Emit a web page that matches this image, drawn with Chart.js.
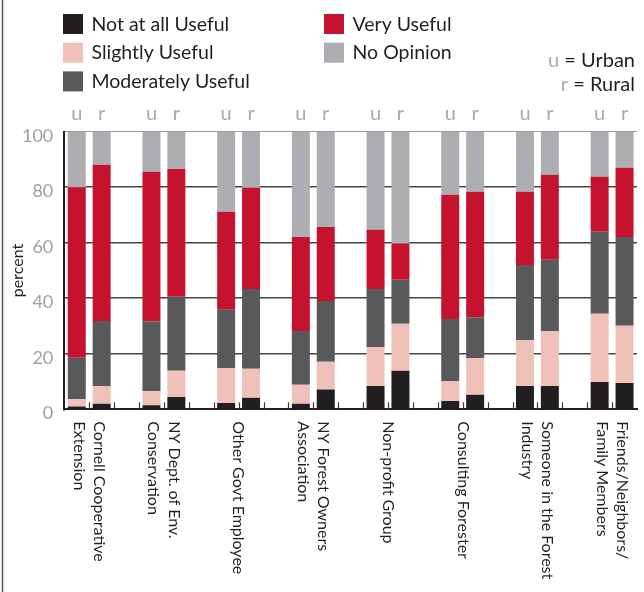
<!DOCTYPE html>
<html>
<head>
<meta charset="utf-8">
<script src="https://cdn.jsdelivr.net/npm/chart.js@4.4.1/dist/chart.umd.min.js"></script>
<style>
  html, body { margin: 0; padding: 0; background: #fff; }
  #wrap { width: 644px; height: 592px; }
</style>
</head>
<body>
<div id="wrap"><canvas id="chart"></canvas></div>
<script>
// source groups, two bars each (urban, rural)
const groupNames = [
    ['Cornell Cooperative', 'Extension'],
    ['NY Dept. of Env.', 'Conservation'],
    ['Other Govt Employee'],
    ['NY Forest Owners', 'Association'],
    ['Non-profit Group'],
    ['Consulting Forester'],
    ['Someone in the Forest', 'Industry'],
    ['Friends/Neighbors/', 'Family Members']
];
const areaTags = ['u', 'r'];

// percent per bar, order: group1 u, group1 r, group2 u, ...
const notAtAll   = [1, 2, 1.5, 4.4, 2.3, 4.2, 2, 7.1, 8.4, 13.9, 3, 5.2, 8.4, 8.4, 9.8, 9.5];
const slightly   = [2.6, 6.4, 5.1, 9.5, 12.6, 10.4, 6.8, 10, 14, 16.9, 7.2, 13.3, 16.6, 19.8, 24.6, 20.6];
const moderately = [15, 23.4, 25, 26.6, 21, 28.7, 19.4, 21.9, 20.9, 15.9, 22.3, 14.7, 27, 25.7, 29.6, 32];
const veryUseful = [61.4, 56.3, 54, 46.1, 35.3, 36.5, 33.9, 26.7, 21.4, 13, 44.8, 45.2, 26.4, 30.6, 19.8, 24.9];
const noOpinion  = [20, 11.9, 14.4, 13.4, 28.8, 20.2, 37.9, 34.3, 35.3, 40.3, 22.7, 21.6, 21.6, 15.5, 16.2, 13];

const yTicks = [0, 20, 40, 60, 80, 100];

const seriesNames = ['Not at all Useful', 'Slightly Useful', 'Moderately Useful', 'Very Useful', 'No Opinion'];
const seriesValues = [notAtAll, slightly, moderately, veryUseful, noOpinion];
const seriesColors = ['#231f20', '#f0c1b8', '#58595b', '#c4122f', '#adaeb1'];

const FONT = 'Lato';
const TEXT = '#231f20';
const GREY_TEXT = '#a7a9ac';

// u, r, then an empty slot between groups
const slotTags = [];
const slotBar = [];
groupNames.forEach((g, gi) => {
    areaTags.forEach((t, ti) => {
        slotTags.push(t);
        slotBar.push(gi * areaTags.length + ti);
    });
    if (gi < groupNames.length - 1) {
        slotTags.push('');
        slotBar.push(null);
    }
});
const toSlots = values => slotBar.map(b => (b === null ? null : values[b]));

const extras = {
    id: 'extras',
    afterDraw(chart) {
        const { ctx, chartArea } = chart;
        const x = chart.scales.x;
        ctx.save();

        // frame line on the left edge
        ctx.strokeStyle = '#555';
        ctx.lineWidth = 1.5;
        ctx.beginPath();
        ctx.moveTo(2.5, 0);
        ctx.lineTo(2.5, chart.height);
        ctx.stroke();

        // short ticks between slots, pointing up from the axis
        ctx.strokeStyle = '#3a3a3a';
        ctx.lineWidth = 1.2;
        for (let i = 1; i < slotTags.length; i++) {
            const px = Math.round(x.getPixelForValue(i - 0.5)) + 0.5;
            ctx.beginPath();
            ctx.moveTo(px, chartArea.bottom);
            ctx.lineTo(px, chartArea.bottom - 7);
            ctx.stroke();
        }

        // group names, rotated to read downwards
        ctx.fillStyle = TEXT;
        ctx.font = `16px ${FONT}`;
        ctx.textAlign = 'left';
        ctx.textBaseline = 'middle';
        groupNames.forEach((lines, gi) => {
            const first = gi * (areaTags.length + 1);
            const cx = (x.getPixelForValue(first) + x.getPixelForValue(first + 1)) / 2;
            ctx.save();
            ctx.translate(cx, chartArea.bottom + 12);
            ctx.rotate(Math.PI / 2);
            lines.forEach((line, li) => {
                ctx.fillText(line, 0, (li - (lines.length - 1) / 2) * 20.5);
            });
            ctx.restore();
        });

        // legend in two columns
        const cols = [[0, 1, 2], [3, 4]];
        const colX = [63, 324];
        ctx.font = `19.5px ${FONT}`;
        cols.forEach((items, ci) => {
            items.forEach((si, ri) => {
                const top = 14 + ri * 28.7;
                ctx.fillStyle = seriesColors[si];
                ctx.fillRect(colX[ci], top, 20, 20);
                ctx.fillStyle = TEXT;
                ctx.fillText(seriesNames[si], colX[ci] + 28.5, top + 10.5);
            });
        });

        // u / r key
        ctx.font = `20px ${FONT}`;
        ctx.textAlign = 'right';
        ctx.textBaseline = 'alphabetic';
        [['u', ' = Urban', 66.7], ['r', ' = Rural', 90.7]].forEach(([tag, rest, base]) => {
            const right = 635;
            ctx.fillStyle = TEXT;
            ctx.fillText(rest, right, base);
            ctx.fillStyle = GREY_TEXT;
            ctx.fillText(tag, right - ctx.measureText(rest).width, base);
        });

        ctx.restore();
    }
};

const datasets = seriesNames.map((name, i) => ({
    label: name,
    data: toSlots(seriesValues[i]),
    backgroundColor: seriesColors[i],
    borderWidth: 0,
    barPercentage: 0.723,
    categoryPercentage: 1
}));

new Chart(document.getElementById('chart'), {
    type: 'bar',
    data: { labels: slotTags, datasets },
    options: {
        responsive: true,
        maintainAspectRatio: false,
        animation: false,
        layout: { padding: { top: 105.7, right: 7, bottom: 162.7, left: 8 } },
        plugins: {
            legend: { display: false },
            tooltip: { enabled: false }
        },
        scales: {
            x: {
                stacked: true,
                offset: true,
                grid: { display: false },
                border: { display: true, color: '#231f20', width: 2 },
                ticks: { display: false },
                afterFit: scale => { scale.height = 20; }
            },
            xTop: {
                type: 'category',
                position: 'top',
                labels: slotTags,
                offset: true,
                grid: { display: false },
                border: { display: false },
                ticks: {
                    color: GREY_TEXT,
                    font: { family: FONT, size: 20, lineHeight: 1 },
                    padding: 0,
                    autoSkip: false,
                    maxRotation: 0
                },
                afterFit: scale => { scale.height = 26; }
            },
            y: {
                stacked: true,
                min: 0,
                max: 100,
                afterBuildTicks: scale => { scale.ticks = yTicks.map(v => ({ value: v })); },
                afterFit: scale => { scale.width = 56.3; },
                grid: {
                    color: c => (c.tick.value === 100 ? '#9a9a9a' : c.tick.value === 0 ? 'rgba(0,0,0,0)' : '#444'),
                    lineWidth: c => (c.tick.value === 100 ? 1 : 1.6),
                    drawTicks: false
                },
                border: { display: true, color: '#231f20', width: 2 },
                ticks: {
                    color: '#a0a0a0',
                    font: { family: FONT, size: 18 },
                    padding: 11,
                    labelOffset: 4
                },
                title: {
                    display: true,
                    text: 'percent',
                    color: TEXT,
                    font: { family: FONT, size: 16 },
                    padding: 0
                }
            }
        }
    },
    plugins: [extras]
});
</script>
</body>
</html>
